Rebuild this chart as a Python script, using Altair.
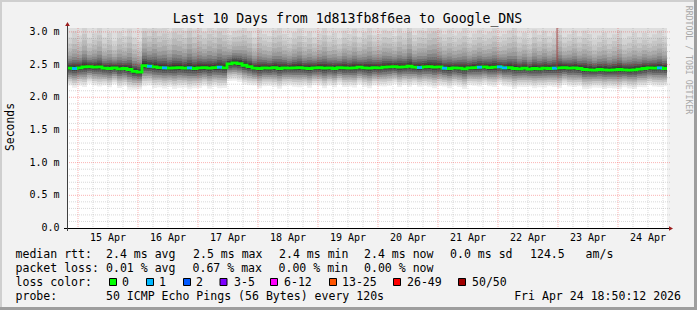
import altair as alt
import pandas as pd

# ---------------- data ----------------
# hours since the left edge of the plot, one value every 2 h (10 days = 240 h)
step_h = 2
median_ms = [
    2.445, 2.44, 2.45,
    2.465, 2.47, 2.46, 2.465,
    2.445, 2.44, 2.45, 2.435, 2.44,
    2.425,
    2.395, 2.385,
    2.485,
    2.475,
    2.465, 2.455, 2.45, 2.445, 2.45, 2.455, 2.445, 2.45, 2.44, 2.45, 2.455, 2.445, 2.455, 2.46, 2.45,
    2.51, 2.525, 2.515,
    2.49, 2.47,
    2.445, 2.44, 2.45, 2.445, 2.455, 2.44, 2.45, 2.445, 2.45, 2.455, 2.445, 2.44, 2.45,
    2.455, 2.445, 2.45, 2.44, 2.455, 2.45, 2.445, 2.45, 2.46, 2.45, 2.445, 2.455, 2.45,
    2.46, 2.465, 2.47, 2.46, 2.465, 2.475, 2.46, 2.455, 2.465, 2.47, 2.46, 2.465,
    2.445, 2.44, 2.45, 2.445, 2.435, 2.45, 2.455, 2.46,
    2.465, 2.455, 2.46, 2.465, 2.45, 2.455,
    2.44, 2.435, 2.445, 2.43, 2.44, 2.435, 2.445, 2.44, 2.445,
    2.45, 2.455, 2.445, 2.45, 2.44,
    2.425, 2.42, 2.415, 2.425, 2.42, 2.415, 2.42, 2.425, 2.42, 2.415, 2.42, 2.43,
    2.44, 2.45, 2.445, 2.45, 2.44, 2.45,
]
# relative spread of the smoke in each 2 h step (vertical streaks)
smoke_spread = [
    0.9, 1.1, 0.95, 1.2, 0.85, 1.0, 1.15, 0.9, 1.05, 0.8, 1.1, 0.95, 1.2, 1.0, 0.9, 1.25,
    1.1, 1.3, 1.15, 1.25, 1.05, 1.3, 1.2, 1.1, 1.35, 1.15, 1.2, 1.05, 1.25, 1.1, 1.3, 1.2,
    0.85, 0.95, 1.0, 1.1, 1.05, 0.9, 1.15, 1.0, 0.95, 1.1, 1.2, 1.0, 0.9, 1.05, 1.15, 0.95,
    1.1, 0.9, 1.0, 1.2, 0.95, 1.05, 0.85, 1.1, 1.0, 1.15, 0.9, 1.05, 1.2, 0.95, 1.0, 1.1,
    1.05, 0.9, 1.15, 1.0, 1.25, 0.95, 1.1, 1.05, 1.2, 1.3, 1.1, 1.0, 1.15, 0.95, 1.05, 1.2,
    0.9, 1.0, 1.1, 0.95, 1.05, 1.15, 0.9, 1.0, 1.1, 1.2, 0.95, 1.05, 0.9, 1.15, 1.0, 1.1,
    0.95, 1.05, 1.2, 0.9, 1.0, 1.1, 0.95, 1.15, 1.05, 0.9, 1.0, 1.1, 0.95, 1.05, 1.15, 0.9,
    1.0, 1.1, 0.95, 1.05, 0.9, 1.0, 1.1, 0.95, 1.0,
]
loss1_hours = [2, 32, 38, 48, 60, 140, 150, 164, 172, 174, 194, 236]
loss50_hours = [196]

# smoke: distance of the grey bands from the median (ms), outermost first
upper_offsets = [0.75, 0.52, 0.42, 0.34, 0.27, 0.21, 0.16, 0.12, 0.085, 0.055, 0.03]
upper_greys = ["#dedede", "#d2d2d2", "#c6c6c6", "#b9b9b9", "#aaaaaa", "#999999",
               "#858585", "#707070", "#5a5a5a", "#454545", "#333333"]
lower_offsets = [0.28, 0.245, 0.21, 0.175, 0.14, 0.105, 0.07, 0.035]
lower_greys = ["#eeeeee", "#dddddd", "#c8c8c8", "#b0b0b0", "#959595", "#777777", "#5a5a5a", "#3e3e3e"]

day_labels = ["15 Apr", "16 Apr", "17 Apr", "18 Apr", "19 Apr",
              "20 Apr", "21 Apr", "22 Apr", "23 Apr", "24 Apr"]
midnight_hours = [4.4, 28.4, 52.4, 76.4, 100.4, 124.4, 148.4, 172.4, 196.4, 220.4]
noon_hours = [16.4, 40.4, 64.4, 88.4, 112.4, 136.4, 160.4, 184.4, 208.4, 232.4]
six_hour_hours = sorted(set(round(h + d, 1) for h in midnight_hours for d in (-18, -12, -6, 6, 12, 18)
                            if 0 < h + d < 240) - set(midnight_hours))
y_major = [0.5, 1.0, 1.5, 2.0, 2.5, 3.0]
y_minor = [round(i / 10, 1) for i in range(1, 31) if i % 5 != 0]
NB = "\u00a0"
y_tick_values = [0.0, 0.5, 1.0, 1.5, 2.0, 2.5, 3.0]
y_tick_labels = ["0.0" + NB + NB, "0.5 m", "1.0 m", "1.5 m", "2.0 m", "2.5 m", "3.0 m"]

loss_labels = ["0", "1", "2", "3-5", "6-12", "13-25", "26-49", "50/50"]
loss_colors = ["#00ff00", "#00b8ff", "#0059ff", "#7e00ff", "#ff00fe", "#ff5500", "#ff0000", "#a10000"]

title_text = "Last 10 Days from 1d813fb8f6ea to Google_DNS"
legend_rows = [
    [(15.5, "median rtt:"), (106, "2.4 ms avg"), (193, "2.5 ms max"), (279, "2.4 ms min"),
     (364, "2.4 ms now"), (450, "0.0 ms sd"), (530, "124.5" + NB * 3 + "am/s")],
    [(15.5, "packet loss:"), (106, "0.01 % avg"), (192.5, "0.67 % max"), (278.5, "0.00 % min"),
     (364, "0.00 % now")],
    [(15.5, "loss color:")],
    [(15.5, "probe:"), (106, "50 ICMP Echo Pings (56 Bytes) every 120s")],
]
legend_baselines = [258, 272, 286, 300]
box_x = [109, 146, 183, 219.5, 270, 329, 393, 458]
box_label_x = [122, 159, 196, 234, 284, 342, 407, 472]
date_text = "Fri Apr 24 18:50:12 2026"

# ---------------- layout ----------------
LEFT, TOP, W, H = 67, 28, 600, 200
FONT = "DejaVu Sans Mono"
YMAX = 3.06

hours = [i * step_h for i in range(len(median_ms))]
xs = alt.Scale(domain=[0, 240], nice=False, zero=False)
ys = alt.Scale(domain=[0, YMAX], nice=False, zero=True)


def X(f):
    return alt.X(f, scale=xs, axis=None)


def Y(f):
    return alt.Y(f, scale=ys, axis=None)


layers = []
dash = [1, 1]

# smoke bands (outermost first so inner, darker ones cover them)
for k, (off, grey) in enumerate(zip(upper_offsets, upper_greys)):
    f = smoke_spread if k > 0 else [1.0] * len(hours)
    df = pd.DataFrame({"t": hours, "lo": median_ms, "hi": [m + off * s for m, s in zip(median_ms, f)]})
    layers.append(alt.Chart(df).mark_area(interpolate="step-after", color=grey, clip=True).encode(
        x=X("t:Q"), y=Y("hi:Q"), y2="lo:Q"))
for off, grey in zip(lower_offsets, lower_greys):
    df = pd.DataFrame({"t": hours, "hi": median_ms,
                       "lo": [m - off * (0.5 + 0.5 * s) for m, s in zip(median_ms, smoke_spread)]})
    layers.append(alt.Chart(df).mark_area(interpolate="step-after", color=grey, clip=True).encode(
        x=X("t:Q"), y=Y("lo:Q"), y2="hi:Q"))

# grid
layers.append(alt.Chart(pd.DataFrame({"t": six_hour_hours})).mark_rule(
    color="#8f8f8f", opacity=0.35, strokeDash=dash).encode(x=X("t:Q"), y=alt.value(0), y2=alt.value(H)))
layers.append(alt.Chart(pd.DataFrame({"v": y_minor})).mark_rule(
    color="#8f8f8f", opacity=0.35, strokeDash=dash).encode(y=Y("v:Q"), x=alt.value(0), x2=alt.value(W + 3)))
layers.append(alt.Chart(pd.DataFrame({"t": midnight_hours})).mark_rule(
    color="#f00000", opacity=0.3, strokeDash=dash).encode(x=X("t:Q"), y=alt.value(0), y2=alt.value(H)))
layers.append(alt.Chart(pd.DataFrame({"v": y_major})).mark_rule(
    color="#f00000", opacity=0.3, strokeDash=dash).encode(y=Y("v:Q"), x=alt.value(0), x2=alt.value(W + 3)))

# median line
df_med = pd.DataFrame({"t": hours, "v": median_ms})
layers.append(alt.Chart(df_med).mark_line(interpolate="step-after", color="#00ff00", strokeWidth=2.8,
                                           clip=True).encode(x=X("t:Q"), y=Y("v:Q")))
# loss 1 segments
df_l1 = pd.DataFrame({"t": loss1_hours, "t2": [h + step_h for h in loss1_hours],
                      "v": [median_ms[h // step_h] for h in loss1_hours]})
layers.append(alt.Chart(df_l1).mark_rule(color=loss_colors[1], strokeWidth=2.8).encode(
    x=X("t:Q"), x2="t2:Q", y=Y("v:Q")))
# 50/50 spike
df_l50 = pd.DataFrame({"t": loss50_hours, "v": [median_ms[h // step_h] for h in loss50_hours],
                       "top": [YMAX for _ in loss50_hours]})
layers.append(alt.Chart(df_l50).mark_rule(color="#9a3b3b", strokeWidth=1, opacity=0.85).encode(
    x=X("t:Q"), y=Y("v:Q"), y2="top:Q"))

# tick labels
df_xl = pd.DataFrame({"t": noon_hours, "lab": day_labels})
layers.append(alt.Chart(df_xl).mark_text(font=FONT, fontSize=10, align="center", baseline="alphabetic",
                                         color="#000000").encode(
    x=X("t:Q"), y=alt.value(241 - TOP), text="lab:N"))
df_yl = pd.DataFrame({"v": y_tick_values, "lab": y_tick_labels})
layers.append(alt.Chart(df_yl).mark_text(font=FONT, fontSize=10, align="right", baseline="middle",
                                         color="#000000").encode(
    y=Y("v:Q"), x=alt.value(59.5 - LEFT), text="lab:N"))

one = pd.DataFrame({"k": [0]})

# axes lines and arrows
layers.append(alt.Chart(one).mark_rule(color="#000000", strokeWidth=1).encode(
    x=alt.value(-3), x2=alt.value(W + 4), y=alt.value(H + 0.5)))
layers.append(alt.Chart(one).mark_rule(color="#404040", strokeWidth=1).encode(
    x=alt.value(0.5), y=alt.value(H + 3), y2=alt.value(-4)))
layers.append(alt.Chart(one).mark_point(shape="triangle-up", filled=True, color="#9b1c1c", size=22,
                                        opacity=1).encode(x=alt.value(0.5), y=alt.value(-4)))
layers.append(alt.Chart(one).mark_point(shape="triangle-right", filled=True, color="#9b1c1c", size=22,
                                        opacity=1).encode(x=alt.value(W + 4), y=alt.value(H + 0.5)))


def frame(x1, x2, y1, y2, col):
    return alt.Chart(one).mark_rect(color=col).encode(
        x=alt.value(x1 - LEFT), x2=alt.value(x2 - LEFT), y=alt.value(y1 - TOP), y2=alt.value(y2 - TOP))


layers += [frame(0, 697, 0, 2, "#cfcfcf"), frame(0, 2, 0, 310, "#cfcfcf"),
           frame(0, 697, 307, 310, "#9e9e9e"), frame(694, 697, 0, 310, "#9e9e9e")]


def text(px, py, s, size, align="left", baseline="alphabetic", angle=0, color="#000000"):
    return alt.Chart(one).mark_text(font=FONT, fontSize=size, align=align, baseline=baseline,
                                    angle=angle, color=color).encode(
        x=alt.value(px - LEFT), y=alt.value(py - TOP), text=alt.value(s))


layers.append(text(347.5, 23.3, title_text, 13.2, align="center"))
layers.append(text(10.5, 127, "Seconds", 11.4, align="center", baseline="middle", angle=270))
layers.append(text(688, 60, "RRDTOOL / TOBI OETIKER", 8.2, align="center", baseline="middle",
                   angle=90, color="#a8a8a8"))
for row, base in zip(legend_rows, legend_baselines):
    for px, s in row:
        layers.append(text(px, base, s, 11.56))
layers.append(text(681, legend_baselines[3], date_text, 11.56, align="right"))
for bx, lx, lab, col in zip(box_x, box_label_x, loss_labels, loss_colors):
    layers.append(alt.Chart(one).mark_rect(color=col, stroke="#000000", strokeWidth=1).encode(
        x=alt.value(bx + 0.5 - LEFT), x2=alt.value(bx + 7.5 - LEFT),
        y=alt.value(278.5 - TOP), y2=alt.value(285.5 - TOP)))
    layers.append(text(lx, legend_baselines[2], lab, 11.56))

chart = alt.layer(*layers).properties(
    width=W, height=H,
    padding={"left": LEFT, "top": TOP, "right": 697 - LEFT - W, "bottom": 310 - TOP - H},
    autosize=alt.AutoSizeParams(type="none"),
    background="#f2f2f2",
).configure_view(fill="white", stroke=None)

chart.save("out.html", embed_options={"renderer": "svg", "actions": False})
